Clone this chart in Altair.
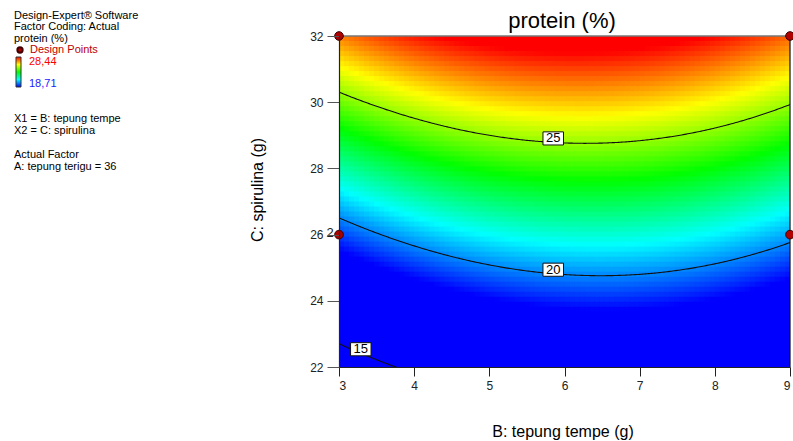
import altair as alt
import numpy as np
import pandas as pd

FONT = "Liberation Sans"

# ---- values ----
# quadratic response-surface coefficients (protein = k0 + k1*B + k2*B^2 + k3*C + k4*B*C)
coef_names = ["intercept", "B", "B2", "C", "BC"]
coef_values = [-21.98, 2.937, -0.1895, 1.374, -0.0194]

contour_levels = [15, 20, 25]
contour_label_B = [3.29, 5.85, 5.85]

design_B = [3, 9, 3, 9]
design_C = [32, 32, 26, 26]
design_count = ["", "", "2", ""]

x_ticks = [3, 4, 5, 6, 7, 8, 9]
y_ticks = [22, 24, 26, 28, 30, 32]
color_low, color_high = 18.71, 28.44

B_MIN, B_MAX = 3, 9
C_MIN, C_MAX = 22, 32

k0, k1, k2, k3, k4 = coef_values


def protein(b, c):
    return k0 + k1 * b + k2 * b * b + k3 * c + k4 * b * c


def contour_c(level, b):
    return (level - k0 - k1 * b - k2 * b * b) / (k3 + k4 * b)


# ---- surface grid ----
nx, ny = 90, 66
bx = np.linspace(B_MIN, B_MAX, nx + 1)
cy = np.linspace(C_MIN, C_MAX, ny + 1)
rows = []
for i in range(nx):
    for j in range(ny):
        bm = (bx[i] + bx[i + 1]) / 2
        cm = (cy[j] + cy[j + 1]) / 2
        rows.append({"b0": bx[i], "b1": bx[i + 1] + 0.02,
                     "c0": cy[j], "c1": cy[j + 1] + 0.03,
                     "P": protein(bm, cm)})
grid = pd.DataFrame(rows)

bb = np.linspace(B_MIN, B_MAX, 301)
lines = pd.DataFrame([{"b": b, "c": contour_c(L, b), "level": L}
                      for L in contour_levels for b in bb])
labels = pd.DataFrame({"b": contour_label_B,
                       "c": [contour_c(L, b) for L, b in zip(contour_levels, contour_label_B)],
                       "txt": [str(L) for L in contour_levels]})
points = pd.DataFrame({"b": design_B, "c": design_C, "n": design_count})

dom = [color_low + (color_high - color_low) * f for f in (0, 0.25, 0.5, 0.75, 1)]
cscale = alt.Scale(domain=dom,
                   range=["#0000ff", "#00ffff", "#00ff00", "#ffff00", "#ff0000"],
                   clamp=True, interpolate="rgb")

xs = alt.Scale(domain=[B_MIN, B_MAX], nice=False, zero=False)
ys = alt.Scale(domain=[C_MIN, C_MAX], nice=False, zero=False)
xax = alt.Axis(values=x_ticks, format="d", title=None, grid=False, tickSize=9,
               labelPadding=4, domainColor="#222", tickColor="#222", labelColor="#222",
               labelFont=FONT, labelFontSize=12, zindex=1, domainWidth=1.2)
yax = alt.Axis(values=y_ticks, format="d", title=None, grid=False, tickSize=12,
               labelPadding=4, domainColor="#222", tickColor="#555", labelColor="#222",
               labelFont=FONT, labelFontSize=12, zindex=1, domainWidth=1.2)


def X(f):
    return alt.X(f, type="quantitative", scale=xs, axis=xax)


def Y(f):
    return alt.Y(f, type="quantitative", scale=ys, axis=yax)


heat = alt.Chart(grid).mark_rect(clip=True).encode(
    x=X("b0"), x2="b1", y=Y("c0"), y2="c1",
    color=alt.Color("P:Q", scale=cscale, legend=None))

clines = alt.Chart(lines).mark_line(color="#111", strokeWidth=1.1, clip=True).encode(
    x=X("b"), y=Y("c"), detail="level:N", order="b:Q")

boxes = alt.Chart(labels).mark_point(
    shape="M-1,-0.64L1,-0.64L1,0.64L-1,0.64Z", size=420, filled=True, fill="white",
    stroke="#111", strokeWidth=1, opacity=1, yOffset=-4).encode(x=X("b"), y=Y("c"))
btext = alt.Chart(labels).mark_text(font=FONT, fontSize=13, color="#000",
                                    baseline="middle", yOffset=-4).encode(
    x=X("b"), y=Y("c"), text="txt:N")

dpts = alt.Chart(points).mark_point(filled=True, fill="#b00000", stroke="#400000",
                                    strokeWidth=1, size=75, opacity=1).encode(
    x=X("b"), y=Y("c"))
dcnt = alt.Chart(points).mark_text(font=FONT, fontSize=13, color="#222", dx=-9, dy=-2,
                                   baseline="middle").encode(
    x=X("b"), y=Y("c"), text="n:N")

W, H = 451, 331
top_rule = alt.Chart(alt.Data(values=[{}])).mark_rule(color="#777", strokeWidth=1.5).encode(
    x=alt.value(0), x2=alt.value(W), y=alt.value(0))
right_rule = alt.Chart(alt.Data(values=[{}])).mark_rule(color="#111", strokeWidth=1.2).encode(
    x=alt.value(W), y=alt.value(0), y2=alt.value(H))

OX, OY = 339, 36


def label(text, x, y, size=11, color="#000", align="left", angle=None):
    kw = dict(text=text, font=FONT, fontSize=size, color=color, align=align,
              baseline="middle")
    if angle is not None:
        kw["angle"] = angle
    return alt.Chart(alt.Data(values=[{}])).mark_text(**kw).encode(
        x=alt.value(x - OX), y=alt.value(y - OY))


texts = [
    label("protein (%)", 562, 21, size=22, align="center"),
    label("C: spirulina (g)", 258, 190, size=16, align="center", angle=270),
    label("B: tepung tempe (g)", 563, 432, size=16, align="center"),
    label("Design-Expert\u00ae Software", 14, 15.5),
    label("Factor Coding: Actual", 14, 27),
    label("protein (%)", 14, 38.5),
    label("Design Points", 30, 50, color="#c00000"),
    label("28,44", 29, 62, color="#ff0000"),
    label("18,71", 29, 84, color="#1a1aff"),
    label("X1 = B: tepung tempe", 14, 119),
    label("X2 = C: spirulina", 14, 131),
    label("Actual Factor", 14, 154.5),
    label("A: tepung terigu = 36", 14, 166.5),
]

legend_dot = alt.Chart(alt.Data(values=[{}])).mark_point(
    filled=True, fill="#b00000", stroke="#400000", size=28, opacity=1).encode(
    x=alt.value(20 - OX), y=alt.value(50 - OY))

cbar = alt.Chart(alt.Data(values=[{}])).mark_rect(
    color=alt.LinearGradient(
        gradient="linear",
        stops=[alt.GradientStop(color="#0000ff", offset=0),
               alt.GradientStop(color="#00ffff", offset=0.25),
               alt.GradientStop(color="#00ff00", offset=0.5),
               alt.GradientStop(color="#ffff00", offset=0.75),
               alt.GradientStop(color="#ff0000", offset=1)],
        x1=0, x2=0, y1=1, y2=0),
    stroke="#333", strokeWidth=1).encode(
    x=alt.value(16 - OX), x2=alt.value(21 - OX), y=alt.value(57 - OY), y2=alt.value(87 - OY))

chart = alt.layer(heat, clines, top_rule, right_rule, boxes, btext, dpts, dcnt,
                  legend_dot, cbar, *texts).properties(
    width=W, height=H,
    padding={"left": OX, "top": OY, "right": 793 - OX - W, "bottom": 441 - OY - H},
    autosize=alt.AutoSizeParams(type="none"),
).configure_view(stroke=None)

chart.save("out.html", embed_options={"renderer": "svg", "actions": False})
